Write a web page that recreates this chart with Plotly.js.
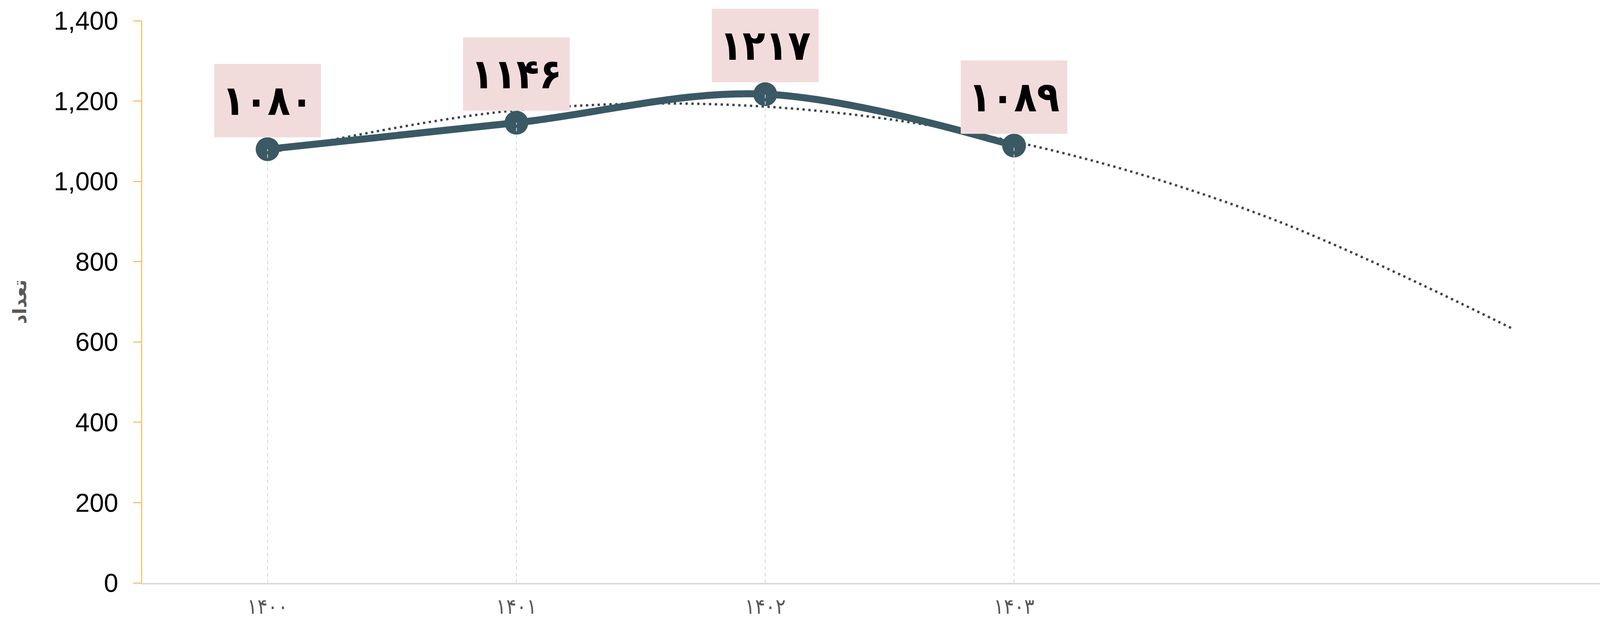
<!DOCTYPE html>
<html>
<head>
<meta charset="utf-8">
<script src="https://cdn.plot.ly/plotly-3.0.1.min.js"></script>
<style>html,body{margin:0;padding:0;background:#fff;overflow:hidden}</style>
</head>
<body>
<div id="chart" style="width:4163px;height:1610px"></div>
<script>
// Categories (Persian years) and values
const categories = ['۱۴۰۰', '۱۴۰۱', '۱۴۰۲', '۱۴۰۳'];
const values = [1080, 1146, 1217, 1089];
// Trendline values (polynomial trend, forecast 2 periods forward)
const trendX = [0, 1, 2, 3, 4, 5];
const trendValues = [1070, 1177, 1186, 1099, 915, 634];
const yTickValues = [0, 200, 400, 600, 800, 1000, 1200, 1400];
const yTitle = 'تعداد';

const faDigits = ['۰','۱','۲','۳','۴','۵','۶','۷','۸','۹'];
function toFa(n) { return String(n).replace(/[0-9]/g, d => faDigits[+d]); }

const idx = categories.map((c, i) => i);
const mainColor = '#3A5964';

// drop lines from each point down to the axis
const dropX = [], dropY = [];
idx.forEach((i) => { dropX.push(i, i, null); dropY.push(0, values[i], null); });

const traces = [
  {
    x: trendX, y: trendValues, type: 'scatter', mode: 'lines',
    line: {color: '#3E474B', width: 6, dash: '6px,9px', shape: 'spline', smoothing: 1},
    hoverinfo: 'skip'
  },
  {
    x: idx, y: values, type: 'scatter', mode: 'lines+markers',
    line: {color: mainColor, width: 18, shape: 'spline', smoothing: 1},
    marker: {size: 61, color: mainColor},
    hoverinfo: 'skip'
  },
  {
    x: dropX, y: dropY, type: 'scatter', mode: 'lines',
    line: {color: '#D6D6D6', width: 2, dash: '9px,8px'},
    hoverinfo: 'skip'
  }
];

const annotations = idx.map((i) => ({
  x: i, y: values[i], xref: 'x', yref: 'y',
  text: toFa(values[i]), showarrow: false,
  xanchor: 'center', yanchor: 'bottom', yshift: 30,
  bgcolor: '#F2DCDB', width: 272, height: 187, borderpad: 0,
  valign: 'middle', align: 'center',
  font: {family: 'DejaVu Sans Condensed, DejaVu Sans', size: 106, color: '#000000', weight: 'bold'}
}));

const layout = {
  width: 4163, height: 1610, autosize: false,
  margin: {l: 364, r: 0, t: 53, b: 118, pad: 0},
  paper_bgcolor: '#ffffff', plot_bgcolor: '#ffffff',
  showlegend: false, hovermode: false,
  xaxis: {
    range: [-0.504, 5.46], tickmode: 'array', tickvals: idx, ticktext: categories,
    showgrid: false, zeroline: false, showline: true, linecolor: '#DADADA', linewidth: 4,
    ticks: '', ticklabelstandoff: 10,
    tickfont: {family: 'DejaVu Sans Condensed, DejaVu Sans', size: 54, color: '#595959'}
  },
  yaxis: {
    range: [0, 1400], tickmode: 'array', tickvals: yTickValues, tickformat: ',',
    showgrid: false, zeroline: false, showline: true, linecolor: '#F4C46A', linewidth: 3,
    ticks: 'outside', ticklen: 20, tickwidth: 3, tickcolor: '#F4C46A',
    ticklabelstandoff: 25,
    tickfont: {family: 'Liberation Sans, Arial', size: 66, color: '#000000'},
    title: {text: yTitle, standoff: 55,
      font: {family: 'DejaVu Sans', size: 48, color: '#595959', weight: 'bold'}}
  },
  annotations: annotations
};

Plotly.newPlot('chart', traces, layout, {displayModeBar: false, staticPlot: true});
</script>
</body>
</html>
